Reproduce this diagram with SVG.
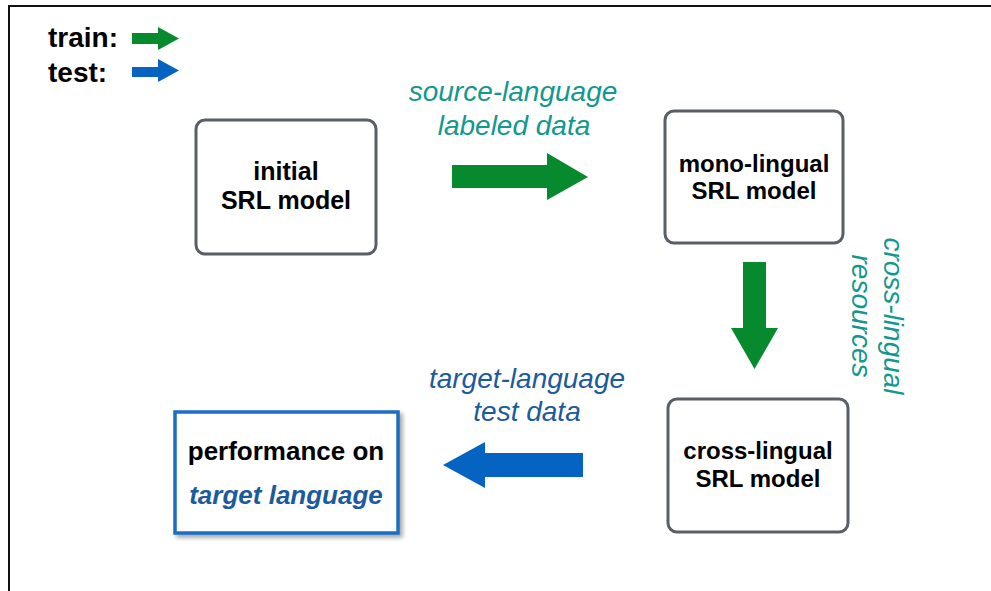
<svg xmlns="http://www.w3.org/2000/svg" width="991" height="591" viewBox="0 0 991 591">
<defs>
<style>
.box{fill:#fff;stroke:#5a5e66;stroke-width:3}
.bt{font-family:"Liberation Sans",Arial,sans-serif;font-weight:bold;font-size:24px;fill:#000;text-anchor:middle}
.lbl{font-family:"Liberation Sans",Arial,sans-serif;font-style:italic;font-size:28px;text-anchor:middle}
.teal{fill:#12988f}
.blt{fill:#1b5b9d}
.green{fill:#078a2e}
.blue{fill:#0563c1}
</style>
<filter id="sh" x="-10%" y="-10%" width="130%" height="130%">
<feDropShadow dx="3" dy="3" stdDeviation="2" flood-color="#000" flood-opacity="0.35"/>
</filter>
</defs>
<rect width="991" height="591" fill="#fff"/>
<path d="M9,591 V6 H991" fill="none" stroke="#111" stroke-width="2"/>

<g id="legend">
<text x="48" y="47" style="font-family:'Liberation Sans',Arial,sans-serif;font-weight:bold;font-size:28px">train:</text>
<text x="48" y="82" style="font-family:'Liberation Sans',Arial,sans-serif;font-weight:bold;font-size:28px">test:</text>
<polygon class="green" points="132,33 158,33 158,27 179,38.5 158,50 158,44 132,44"/>
<polygon class="blue" points="132,67 158,67 158,59 179,70.5 158,82 158,77 132,77"/>
</g>

<g id="initial">
<rect class="box" x="196" y="120" width="180" height="134" rx="9"/>
<text class="bt" x="286" y="180" style="font-size:25px">initial</text>
<text class="bt" x="286" y="209" style="font-size:25px">SRL model</text>
</g>

<g id="mono">
<rect class="box" x="665" y="111" width="178" height="132" rx="9"/>
<text class="bt" x="754" y="172">mono-lingual</text>
<text class="bt" x="754" y="199">SRL model</text>
</g>

<g id="cross">
<rect class="box" x="668" y="399" width="180" height="133" rx="9"/>
<text class="bt" x="758" y="459">cross-lingual</text>
<text class="bt" x="758" y="487">SRL model</text>
</g>

<g id="performance">
<rect x="175" y="412" width="223" height="121" fill="#fff" stroke="#1b6ec2" stroke-width="3.5" filter="url(#sh)"/>
<text class="bt" x="286" y="460" style="font-size:26px">performance on</text>
<text class="bt" x="286" y="504" style="font-size:26px;font-style:italic;fill:#1b5b9d">target language</text>
</g>

<g id="connectors">
<polygon class="green" points="452,165 547,165 547,153 588,177 547,200 547,188 452,188"/>
<polygon class="green" points="743,262 766,262 766,328 778,328 754.5,369 731,328 743,328"/>
<polygon class="blue" points="583,453 485,453 485,442 443,465 485,488 485,477 583,477"/>
</g>

<g id="labels">
<text class="lbl teal" x="513" y="101">source-language</text>
<text class="lbl teal" x="514" y="135">labeled data</text>
<text class="lbl teal" transform="translate(884,316) rotate(90)">cross-lingual</text>
<text class="lbl teal" transform="translate(852,316) rotate(90)">resources</text>
<text class="lbl blt" x="527" y="388">target-language</text>
<text class="lbl blt" x="527" y="421">test data</text>
</g>
</svg>
